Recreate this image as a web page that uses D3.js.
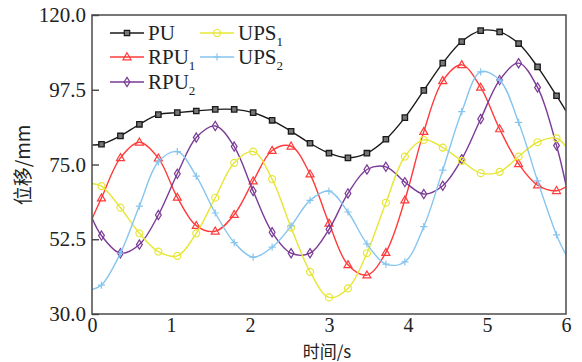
<!DOCTYPE html>
<html>
<head>
<meta charset="utf-8">
<script src="https://cdn.jsdelivr.net/npm/d3@7/dist/d3.min.js"></script>
<style>
  html, body { margin: 0; padding: 0; background: #fff; }
  svg { display: block; }
</style>
</head>
<body>
<svg id="chart" width="582" height="362"></svg>
<script>
// Sample times (s); first and last entries are curve end points without markers
const time = [0, 0.12, 0.36, 0.60, 0.84, 1.08, 1.32, 1.56, 1.80, 2.04, 2.28, 2.52, 2.76,
  3.00, 3.24, 3.48, 3.72, 3.96, 4.20, 4.44, 4.68, 4.92, 5.16, 5.40, 5.64, 5.88, 6];

// Displacement (mm) of each specimen
const PU = [80.9, 81.1, 83.6, 87.1, 90.0, 90.6, 91.1, 91.6, 91.6, 90.6, 88.3, 85.0, 81.4,
  78.4, 77.0, 78.4, 82.6, 89.1, 97.3, 105.5, 112.0, 115.3, 114.9, 111.4, 104.4, 95.7, 91.1];
const RPU1 = [58.6, 64.9, 77.0, 81.7, 76.9, 65.1, 56.6, 54.9, 59.9, 70.0, 79.2, 80.5, 72.1,
  57.3, 44.8, 41.7, 48.5, 64.3, 84.9, 100.2, 105.0, 98.2, 85.7, 75.2, 68.8, 67.1, 68.3];
const RPU2 = [58.9, 53.6, 48.3, 50.9, 59.8, 72.2, 83.1, 86.6, 80.4, 67.0, 54.6, 48.3, 48.3,
  55.5, 66.3, 73.5, 74.3, 69.7, 66.1, 68.6, 76.6, 88.7, 100.4, 105.5, 98.2, 80.7, 68.8];
const UPS1 = [69.3, 68.5, 62.0, 54.3, 48.8, 47.5, 54.3, 65.0, 75.5, 78.9, 70.6, 56.0, 42.7,
  35.0, 37.7, 48.3, 63.5, 77.4, 82.4, 80.1, 76.1, 72.4, 72.8, 77.4, 81.7, 82.9, 80.4];
const UPS2 = [37.4, 38.7, 48.3, 62.5, 75.8, 78.9, 71.5, 60.4, 51.5, 47.1, 50.1, 56.5, 64.2,
  67.0, 60.7, 51.1, 45.0, 45.7, 56.3, 73.3, 90.9, 102.9, 100.4, 87.7, 70.1, 53.8, 47.8];

const xTicks = [0, 1, 2, 3, 4, 5, 6];
const yTicks = [30, 52.5, 75, 97.5, 120];

const seriesNames = ["PU", "RPU1", "RPU2", "UPS1", "UPS2"];
const seriesValues = [PU, RPU1, RPU2, UPS1, UPS2];

const style = {
  PU:   { color: "#1a1a1a", marker: "square",   label: "PU",  sub: "" },
  RPU1: { color: "#ff3b3b", marker: "triangle", label: "RPU", sub: "1" },
  RPU2: { color: "#7a3a96", marker: "diamond",  label: "RPU", sub: "2" },
  UPS1: { color: "#e6e636", marker: "circle",   label: "UPS", sub: "1" },
  UPS2: { color: "#86c5f0", marker: "plus",     label: "UPS", sub: "2" }
};

const margin = { left: 92, right: 16, top: 15, bottom: 48 };
const width = 582, height = 362;
const svg = d3.select("#chart");

const x = d3.scaleLinear().domain([0, 6]).range([margin.left, width - margin.right]);
const y = d3.scaleLinear().domain([30, 120]).range([height - margin.bottom, margin.top]);

const serif = "'Liberation Serif', 'Times New Roman', serif";

function markerPath(type) {
  switch (type) {
    case "square":   return "M-2.7,-2.7H2.7V2.7H-2.7Z";
    case "triangle": return "M0,-4.2L4,2.8H-4Z";
    case "diamond":  return "M0,-4.6L2.9,0L0,4.6L-2.9,0Z";
    case "circle":   return d3.symbol(d3.symbolCircle, 38)();
    case "plus":     return "M-3.6,0H3.6M0,-3.6V3.6";
  }
}

const line = d3.line()
  .x((d, i) => x(time[i]))
  .y(d => y(d))
  .curve(d3.curveCatmullRom.alpha(0.5));

const plot = svg.append("g");
svg.append("clipPath").attr("id", "plotclip")
  .append("rect")
  .attr("x", x(0)).attr("y", y(120))
  .attr("width", x(6) - x(0)).attr("height", y(30) - y(120));

seriesNames.forEach((name, si) => {
  const s = style[name];
  const vals = seriesValues[si];
  const g = plot.append("g").attr("clip-path", "url(#plotclip)");
  g.append("path")
    .attr("d", line(vals))
    .attr("fill", "none")
    .attr("stroke", s.color)
    .attr("stroke-width", 1.4);
  g.selectAll("path.m")
    .data(vals.slice(1, -1))
    .join("path")
    .attr("class", "m")
    .attr("transform", (d, i) => `translate(${x(time[i + 1])},${y(d)})`)
    .attr("d", markerPath(s.marker))
    .attr("fill", s.marker === "square" ? "#777" : "none")
    .attr("stroke", s.color)
    .attr("stroke-width", s.marker === "square" ? 1.3 : 1.2);
});

// Frame
svg.append("rect")
  .attr("x", x(0)).attr("y", y(120))
  .attr("width", x(6) - x(0)).attr("height", y(30) - y(120))
  .attr("fill", "none")
  .attr("stroke", "#555")
  .attr("stroke-width", 1.6);

// Y axis (inward ticks)
const yAxis = svg.append("g")
  .attr("transform", `translate(${x(0)},0)`)
  .call(d3.axisRight(y).tickValues(yTicks).tickSize(7).tickFormat(d3.format(".1f")));
yAxis.select(".domain").remove();
yAxis.selectAll(".tick line").attr("stroke", "#444").attr("stroke-width", 1.4);
yAxis.selectAll(".tick text")
  .attr("x", -6)
  .attr("text-anchor", "end")
  .attr("font-family", serif)
  .attr("font-size", 21)
  .attr("fill", "#222");

// X axis
const xAxis = svg.append("g")
  .attr("transform", `translate(0,${y(30)})`)
  .call(d3.axisBottom(x).tickValues(xTicks).tickSize(0).tickPadding(4).tickFormat(d3.format("d")));
xAxis.select(".domain").remove();
xAxis.selectAll(".tick text")
  .attr("font-family", serif)
  .attr("font-size", 20)
  .attr("fill", "#222");

// Axis titles
svg.append("text")
  .attr("x", 327).attr("y", 358)
  .attr("text-anchor", "middle")
  .attr("font-family", "'Noto Sans CJK SC', sans-serif")
  .attr("font-size", 17)
  .attr("fill", "#222")
  .text("时间/s");

svg.append("text")
  .attr("transform", "translate(30,165) rotate(-90)")
  .attr("text-anchor", "middle")
  .attr("font-family", "'Noto Sans CJK SC', sans-serif")
  .attr("font-size", 19)
  .attr("fill", "#222")
  .text("位移/mm");

// Legend
const legendPos = {
  PU:   [110, 33],
  RPU1: [110, 57],
  RPU2: [110, 82],
  UPS1: [200, 33],
  UPS2: [200, 57]
};
seriesNames.forEach(name => {
  const s = style[name];
  const [lx, ly] = legendPos[name];
  const g = svg.append("g").attr("transform", `translate(${lx},${ly})`);
  g.append("line").attr("x1", 0).attr("x2", 34).attr("y1", 0).attr("y2", 0)
    .attr("stroke", s.color).attr("stroke-width", 1.4);
  g.append("path")
    .attr("transform", "translate(17,0)")
    .attr("d", markerPath(s.marker))
    .attr("fill", s.marker === "square" ? "#777" : "none")
    .attr("stroke", s.color)
    .attr("stroke-width", 1.2);
  const t = g.append("text")
    .attr("x", 38).attr("y", 7)
    .attr("font-family", serif)
    .attr("font-size", 21)
    .attr("fill", "#222")
    .text(s.label);
  if (s.sub) {
    t.append("tspan").attr("dy", 6).attr("font-size", 13).text(s.sub);
  }
});
</script>
</body>
</html>
